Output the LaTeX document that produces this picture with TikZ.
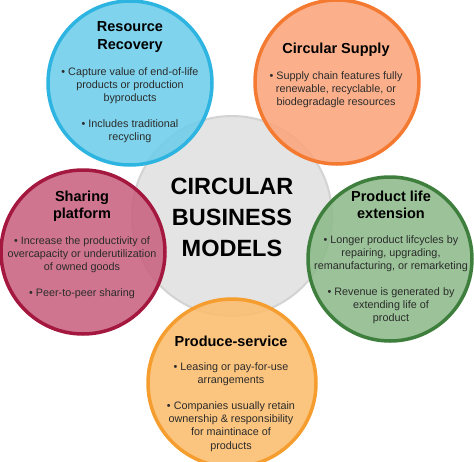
\documentclass[tikz,border=0pt]{standalone}
\usepackage{fontspec}
\setmainfont{Liberation Sans}
\definecolor{blueF}{HTML}{6DCDEA}\definecolor{blueD}{HTML}{2DB4E0}
\definecolor{orgF}{HTML}{FBA57B}\definecolor{orgD}{HTML}{F47A32}
\definecolor{redF}{HTML}{C8627F}\definecolor{redD}{HTML}{A4173F}
\definecolor{grnF}{HTML}{8DBA8A}\definecolor{grnD}{HTML}{3F7F3D}
\definecolor{ylwF}{HTML}{FBBD6E}\definecolor{ylwD}{HTML}{F59E2F}
\definecolor{gryF}{HTML}{E4E4E4}\definecolor{gryD}{HTML}{D3D3D3}
\definecolor{bodytext}{HTML}{2B2B2B}
\tikzset{
  bubble/.style={circle, inner sep=0pt, minimum size=164pt, line width=3.5pt, fill opacity=0.88, draw opacity=1},
  head/.style={align=center, inner sep=0pt, font=\fontsize{14.5}{17.5}\selectfont\bfseries, text=black},
  body/.style={align=center, inner sep=0pt, font=\fontsize{10.8}{13.2}\selectfont, text=bodytext},
  title/.style={align=center, inner sep=0pt, font=\fontsize{23.5}{31}\selectfont\bfseries, text=black}
}
\begin{document}
\begin{tikzpicture}[x=1pt,y=-1pt]
\useasboundingbox (0,0) rectangle (474,461);
\node[circle, inner sep=0pt, minimum size=200pt, line width=2pt, draw=gryD, fill=gryF] (core) at (232,216) {};
\node[bubble, draw=blueD, fill=blueF] (rr) at (130,83) {};
\node[bubble, draw=orgD, fill=orgF] (cs) at (337,82) {};
\node[bubble, draw=redD, fill=redF] (sp) at (83,252) {};
\node[bubble, draw=grnD, fill=grnF] (pl) at (390,259) {};
\node[bubble, minimum size=168pt, draw=ylwD, fill=ylwF] (ps) at (232,383) {};

\node[title] (t) at (232,217) {CIRCULAR\\BUSINESS\\MODELS};

\node[head] (rrh) at (130,37) {Resource\\Recovery};
\node[body] (rrb1) at (130,86) {• Capture value of end-of-life\\products or production\\byproducts};
\node[body] (rrb2) at (130,131) {• Includes traditional\\recycling};

\node[head] (csh) at (336,50) {Circular Supply};
\node[body] (csb1) at (336,90) {• Supply chain features fully\\renewable, recyclable, or\\biodegradagle resources};

\node[head] (sph) at (82,206) {Sharing\\platform};
\node[body] (spb1) at (82,255) {• Increase the productivity of\\overcapacity or underutilization\\of owned goods};
\node[body] (spb2) at (82,294) {• Peer-to-peer sharing};

\node[head] (plh) at (391,205) {Product life\\extension};
\node[body] (plb1) at (391,254) {• Longer product lifcycles by\\repairing, upgrading,\\remanufacturing, or remarketing};
\node[body] (plb2) at (391,306) {• Revenue is generated by\\extending life of\\product};

\node[head] (psh) at (231,341) {Produce-service};
\node[body] (psb1) at (231,374.5) {• Leasing or pay-for-use\\arrangements};
\node[body] (psb2) at (231,426.5) {• Companies usually retain\\ownership \& responsibility\\for maintinace of\\products};
\end{tikzpicture}
\end{document}
